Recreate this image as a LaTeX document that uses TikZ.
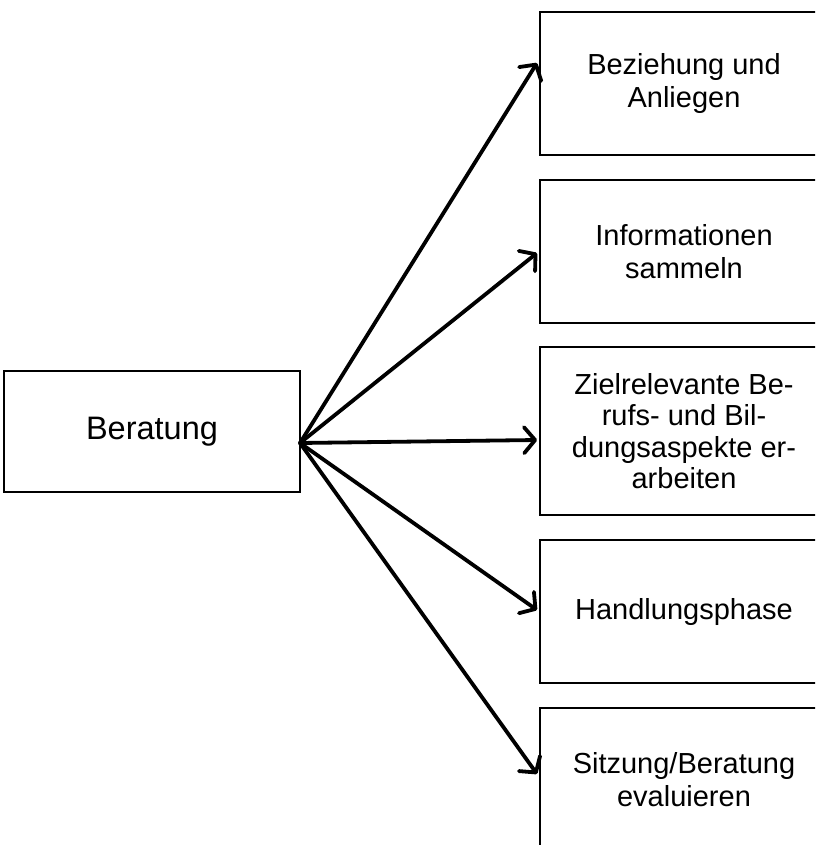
\documentclass[tikz,border=0pt]{standalone}
\usepackage{fontspec}
\setmainfont{Liberation Sans}
\usetikzlibrary{arrows.meta}
\begin{document}
\begin{tikzpicture}[x=1pt,y=-1pt,
  box/.style={draw=black,line width=2pt,rectangle,inner sep=0pt,align=center,
    font=\fontsize{29}{33.5}\selectfont},
  rbox/.style={box,minimum width=288pt,minimum height=143pt},
  conn/.style={line width=3.8pt,line cap=round,
    -{Straight Barb[length=11pt,width=26pt,round]}}]
\clip (0,0) rectangle (815,845);
\node[box,minimum width=296pt,minimum height=121pt,font=\fontsize{32.5}{37}\selectfont] (src) at (152,431.5) {Beratung};
\node[rbox] (b1) at (684,83.5) {Beziehung und\\Anliegen};
\node[rbox] (b2) at (684,251.5) {Informationen\\sammeln};
\node[rbox,minimum height=168pt,font=\fontsize{29}{31.5}\selectfont] (b3) at (684,431) {Zielrelevante Be-\\rufs- und Bil-\\dungsaspekte er-\\arbeiten};
\node[rbox] (b4) at (684,611.5) {Handlungsphase};
\node[rbox] (b5) at (684,779.5) {Sitzung/Beratung\\evaluieren};
\coordinate (o) at (300,443);
\coordinate (t1) at (537,63);
\coordinate (t2) at (537,253);
\coordinate (t3) at (537,440);
\coordinate (t4) at (537,610);
\coordinate (t5) at (537,774);
\foreach \t in {t1,t2,t3,t4,t5} \draw[conn] (o) -- (\t);
\end{tikzpicture}
\end{document}
